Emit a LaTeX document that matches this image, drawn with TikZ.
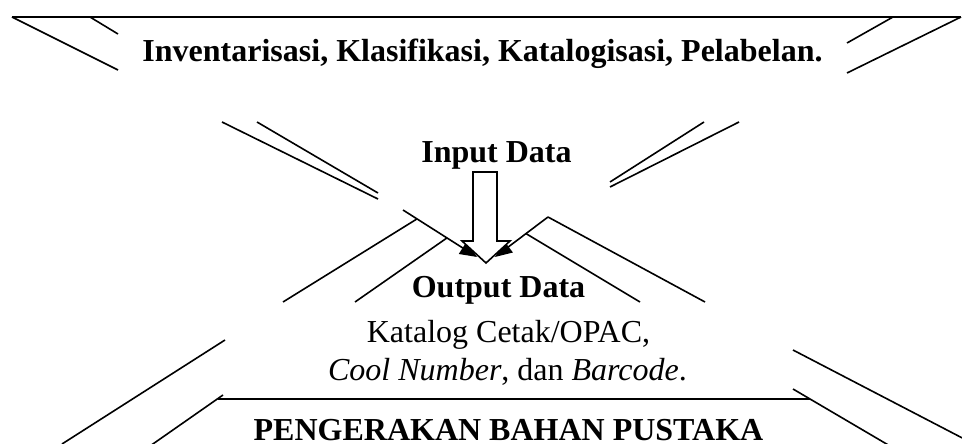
\documentclass[tikz,border=0pt]{standalone}
\usepackage{fontspec}
\setmainfont{Liberation Serif}
\usetikzlibrary{arrows.meta}
\begin{document}
\begin{tikzpicture}[x=1pt,y=-1pt,
  ln/.style={line width=1.6pt},
  boldtxt/.style={font=\fontsize{32}{38}\selectfont\bfseries, anchor=base, inner sep=0pt},
  regtxt/.style={font=\fontsize{32}{38}\selectfont, anchor=base, inner sep=0pt},
  blk/.style={ln, -{Triangle[length=17pt,width=14pt]}},
  hollow/.style={line width=1.6pt, fill=white, line join=miter}]
\useasboundingbox (0,0) rectangle (962,444);

% top band
\draw[ln] (12,17) -- (961,17);
\draw[ln] (12,17) -- (118,70);
\draw[ln] (90,17) -- (118,34);
\draw[ln] (893,17) -- (847,43);
\draw[ln] (961,17) -- (847,73);
\node[boldtxt] (t1) at (482.5,62) {Inventarisasi, Klasifikasi, Katalogisasi, Pelabelan.};

% upper middle lines
\draw[ln] (222,122) -- (378,199);
\draw[ln] (257,122) -- (378,193);
\draw[ln] (704,122) -- (610,182);
\draw[ln] (739,122) -- (610,187);

\node[boldtxt] (in) at (496.5,162) {Input Data};

% chevron with black arrows
\coordinate (la) at (403,210);
\coordinate (lt) at (477,257);
\coordinate (ra) at (548,217);
\coordinate (rt) at (495,257);
\draw[blk] (la) -- (lt);
\draw[blk] (ra) -- (rt);
\draw[ln] (ra) -- (705,302);
\draw[ln] (417,218.9) -- (283,302);
\draw[ln] (447,237.9) -- (355,302);
\draw[ln] (526,233.6) -- (640,302);

% block arrow
\draw[hollow] (473,172) -- (497,172) -- (497,241) -- (510,241) -- (486,263) -- (462,241) -- (473,241) -- cycle;

\node[boldtxt] (out) at (498.5,297) {Output Data};
\node[regtxt] (k1) at (508.5,342) {Katalog Cetak/OPAC,};
\node[regtxt] (k2) at (507.5,380) {\textit{Cool Number}, dan \textit{Barcode}.};

% lower band
\draw[ln] (225,340) -- (62,444);
\draw[ln] (223,395) -- (150,446);
\draw[ln] (218,399) -- (810,399);
\draw[ln] (793,389) -- (890,446);
\draw[ln] (793,350) -- (970,442);

\node[boldtxt] (peng) at (508.5,440) {PENGERAKAN BAHAN PUSTAKA};
\end{tikzpicture}
\end{document}
